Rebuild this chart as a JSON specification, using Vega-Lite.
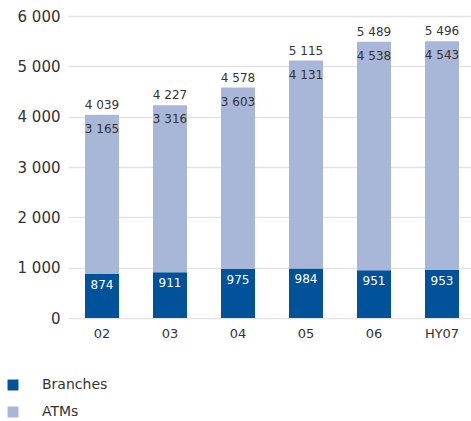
{
  "$schema": "https://vega.github.io/schema/vega-lite/v6.json",
  "width": 408,
  "height": 302,
  "autosize": {"type": "none"},
  "padding": {"left": 68, "top": 16, "right": 0, "bottom": 103},
  "config": {
    "locale": {"number": {"decimal": ".", "thousands": " ", "grouping": [3], "currency": ["", ""]}},
    "font": "DejaVu Sans",
    "view": {"stroke": null},
    "axis": {"labelColor": "#333333", "domain": false, "ticks": false, "title": null}
  },
  "datasets": {
    "long": [
      {"year": "02", "type": "Branches", "value": 874},
      {"year": "02", "type": "ATMs", "value": 3165},
      {"year": "03", "type": "Branches", "value": 911},
      {"year": "03", "type": "ATMs", "value": 3316},
      {"year": "04", "type": "Branches", "value": 975},
      {"year": "04", "type": "ATMs", "value": 3603},
      {"year": "05", "type": "Branches", "value": 984},
      {"year": "05", "type": "ATMs", "value": 4131},
      {"year": "06", "type": "Branches", "value": 951},
      {"year": "06", "type": "ATMs", "value": 4538},
      {"year": "HY07", "type": "Branches", "value": 953},
      {"year": "HY07", "type": "ATMs", "value": 4543}
    ],
    "wide": [
      {"year": "02", "Branches": 874, "ATMs": 3165, "Total": 4039},
      {"year": "03", "Branches": 911, "ATMs": 3316, "Total": 4227},
      {"year": "04", "Branches": 975, "ATMs": 3603, "Total": 4578},
      {"year": "05", "Branches": 984, "ATMs": 4131, "Total": 5115},
      {"year": "06", "Branches": 951, "ATMs": 4538, "Total": 5489},
      {"year": "HY07", "Branches": 953, "ATMs": 4543, "Total": 5496}
    ]
  },
  "encoding": {
    "x": {
      "field": "year", "type": "nominal", "sort": null,
      "scale": {"paddingInner": 0.5, "paddingOuter": 0.25},
      "axis": {"labelAngle": 0, "labelFontSize": 13, "labelPadding": 9}
    }
  },
  "layer": [
    {
      "data": {"name": "long"},
      "mark": {"type": "bar"},
      "encoding": {
        "y": {
          "field": "value", "type": "quantitative", "stack": "zero",
          "scale": {"domain": [0, 6000]},
          "axis": {"values": [0, 1000, 2000, 3000, 4000, 5000, 6000], "labelFontSize": 15, "labelPadding": 8, "gridColor": "#e3e3e3", "gridWidth": 1.5, "format": ",d"}
        },
        "color": {
          "field": "type", "type": "nominal",
          "scale": {"domain": ["Branches", "ATMs"], "range": ["#00529b", "#a8b6d8"]},
          "legend": {
            "title": null, "orient": "none", "direction": "vertical",
            "legendX": -62, "legendY": 362,
            "symbolType": "square", "symbolSize": 120, "symbolStrokeWidth": 0,
            "labelFontSize": 14, "labelColor": "#333333", "labelOffset": 22,
            "rowPadding": 13
          }
        },
        "order": {"field": "type", "sort": "descending"}
      }
    },
    {
      "data": {"name": "wide"},
      "mark": {"type": "text", "fontSize": 12, "color": "#333333", "dy": -10},
      "encoding": {
        "y": {"field": "Total", "type": "quantitative"},
        "text": {"field": "Total", "type": "quantitative", "format": ",d"}
      }
    },
    {
      "data": {"name": "wide"},
      "mark": {"type": "text", "fontSize": 12, "color": "#333333", "dy": 14},
      "encoding": {
        "y": {"field": "Total", "type": "quantitative"},
        "text": {"field": "ATMs", "type": "quantitative", "format": ",d"}
      }
    },
    {
      "data": {"name": "wide"},
      "mark": {"type": "text", "fontSize": 12, "color": "#ffffff", "dy": 11},
      "encoding": {
        "y": {"field": "Branches", "type": "quantitative"},
        "text": {"field": "Branches", "type": "quantitative", "format": ",d"}
      }
    }
  ]
}
